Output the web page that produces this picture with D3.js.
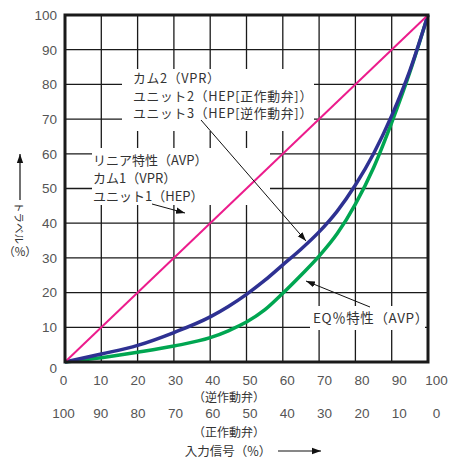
<!DOCTYPE html>
<html><head><meta charset="utf-8">
<script src="https://d3js.org/d3.v7.min.js"></script>
<style>body{margin:0;background:#fff}svg{display:block}</style>
</head><body>
<script>
const xTicks = [0,10,20,30,40,50,60,70,80,90,100];
const xTicksReverse = [100,90,80,70,60,50,40,30,20,10,0];
const yTicks = [0,10,20,30,40,50,60,70,80,90,100];
const linearX = [0,100];
const linearY = [0,100];
const blueX = [0,10,20,30,40,45,50,55,60,65,70,75,80,85,90,95,100];
const blueY = [0,2.3,4.8,8.5,13,16,19.5,23.5,28,32.5,37.5,43.5,51,60,71,84,100];
const greenX = [0,10,20,30,40,45,50,55,60,65,70,75,80,85,90,95,100];
const greenY = [0,1.2,2.8,4.6,7,9,11.5,15,19.8,25,30.5,37,45.5,56,69,83.5,100];

const W=450,H=461;
const svg=d3.select("body").append("svg").attr("width",W).attr("height",H);
const x=d3.scaleLinear().domain([0,100]).range([65,428]);
const y=d3.scaleLinear().domain([0,100]).range([362,15]);
const font="'Liberation Sans',Arial,sans-serif";
const jfont="'Noto Sans CJK JP','Liberation Sans',sans-serif";

svg.append("defs").append("marker").attr("id","ah").attr("viewBox","0 0 10 10")
  .attr("refX",10).attr("refY",5).attr("markerWidth",9).attr("markerHeight",9)
  .attr("markerUnits","userSpaceOnUse").attr("orient","auto")
  .append("path").attr("d","M0,1.5L10,5L0,8.5Z").attr("fill","#111");

// grid
const g=svg.append("g");
g.selectAll("line.v").data(xTicks.slice(1,-1)).join("line")
  .attr("x1",d=>x(d)).attr("x2",d=>x(d)).attr("y1",y(0)).attr("y2",y(100))
  .attr("stroke","#1a1a1a").attr("stroke-width",1.3);
g.selectAll("line.h").data(yTicks.slice(1,-1)).join("line")
  .attr("y1",d=>y(d)).attr("y2",d=>y(d)).attr("x1",x(0)).attr("x2",x(100))
  .attr("stroke","#1a1a1a").attr("stroke-width",1.3);

// label backgrounds
svg.append("rect").attr("x",122).attr("y",69).attr("width",192).attr("height",62).attr("fill","#fff");
svg.append("rect").attr("x",92).attr("y",148).attr("width",178).attr("height",57).attr("fill","#fff");
svg.append("rect").attr("x",310).attr("y",306).attr("width",115).attr("height",24).attr("fill","#fff");

// curves
const line=d3.line().x(d=>x(d[0])).y(d=>y(d[1])).curve(d3.curveMonotoneX);
svg.append("path").datum(greenX.map((v,i)=>[v,greenY[i]])).attr("d",line)
  .attr("fill","none").attr("stroke","#00a651").attr("stroke-width",3.5);
svg.append("path").datum(blueX.map((v,i)=>[v,blueY[i]])).attr("d",line)
  .attr("fill","none").attr("stroke","#2e3192").attr("stroke-width",3.5);
svg.append("path").datum(linearX.map((v,i)=>[v,linearY[i]])).attr("d",d3.line().x(d=>x(d[0])).y(d=>y(d[1])))
  .attr("fill","none").attr("stroke","#ec1c8c").attr("stroke-width",2);

// frame
svg.append("rect").attr("x",x(0)).attr("y",y(100)).attr("width",x(100)-x(0)).attr("height",y(0)-y(100))
  .attr("fill","none").attr("stroke","#1a1a1a").attr("stroke-width",3);

// axes (ticks only as text)
const yAxis=d3.axisLeft(y).tickValues(yTicks).tickSize(0).tickPadding(8);
const ya=svg.append("g").attr("transform",`translate(${x(0)},0)`).call(yAxis);
ya.select(".domain").remove();
ya.selectAll("text").attr("font-family",font).attr("font-size",13.5).attr("fill","#555");
ya.selectAll(".tick").filter(d=>d===0).select("text").attr("dy","0.75em");

// tick labels are spaced slightly wider than the grid in the reference
const xl=d3.scaleLinear().domain([0,100]).range([63,436]);
const xAxis=d3.axisBottom(xl).tickValues(xTicks).tickSize(0).tickPadding(13);
const xa=svg.append("g").attr("transform",`translate(0,${y(0)})`).call(xAxis);
xa.select(".domain").remove();
xa.selectAll("text").attr("font-family",font).attr("font-size",13.5).attr("fill","#555");

const xr=d3.scaleLinear().domain([100,0]).range([63,436]);
const xAxis2=d3.axisBottom(xr).tickValues(xTicksReverse).tickSize(0).tickPadding(0);
const xa2=svg.append("g").attr("transform",`translate(0,408)`).call(xAxis2);
xa2.select(".domain").remove();
xa2.selectAll("text").attr("font-family",font).attr("font-size",13.5).attr("fill","#555");

const t=(tx,ty,s,anchor="start",size=13,ls=0)=>svg.append("text").attr("x",tx).attr("y",ty).text(s)
  .attr("font-family",jfont).attr("font-size",size).attr("fill","#333").attr("text-anchor",anchor)
  .attr("letter-spacing",ls);

t(229,402,"（逆作動弁）","middle",12);
t(229,437,"（正作動弁）","middle",12);
t(228,456,"入力信号（%）","middle",12.5);
svg.append("line").attr("x1",278).attr("x2",321).attr("y1",451).attr("y2",451)
  .attr("stroke","#111").attr("stroke-width",1.2).attr("marker-end","url(#ah)");

// y label
svg.append("text").attr("transform","translate(15,202) rotate(90)").text("トラベル")
  .attr("font-family",jfont).attr("font-size",10.5).attr("fill","#333");
t(20,256,"（%）","middle",11.5);
svg.append("line").attr("x1",20).attr("x2",20).attr("y1",200).attr("y2",154)
  .attr("stroke","#111").attr("stroke-width",1.2).attr("marker-end","url(#ah)");

// annotations
t(133,83,"カム2（VPR）","start",12.8,0.7);
t(133,100.5,"ユニット2（HEP[正作動弁]）","start",12.8,0.7);
t(133,118,"ユニット3（HEP[逆作動弁]）","start",12.8,0.7);
t(93,165,"リニア特性（AVP）");
t(93,183,"カム1（VPR）");
t(93,201,"ユニット1（HEP）");
t(313,323,"EQ％特性（AVP）","start",13.5,0.6);

const arrow=(x1,y1,x2,y2)=>svg.append("line").attr("x1",x1).attr("y1",y1).attr("x2",x2).attr("y2",y2)
  .attr("stroke","#111").attr("stroke-width",1).attr("marker-end","url(#ah)");
arrow(201,120,306,241);
arrow(152,204,185,213);
arrow(370,307,306,281);
</script>
</body></html>
